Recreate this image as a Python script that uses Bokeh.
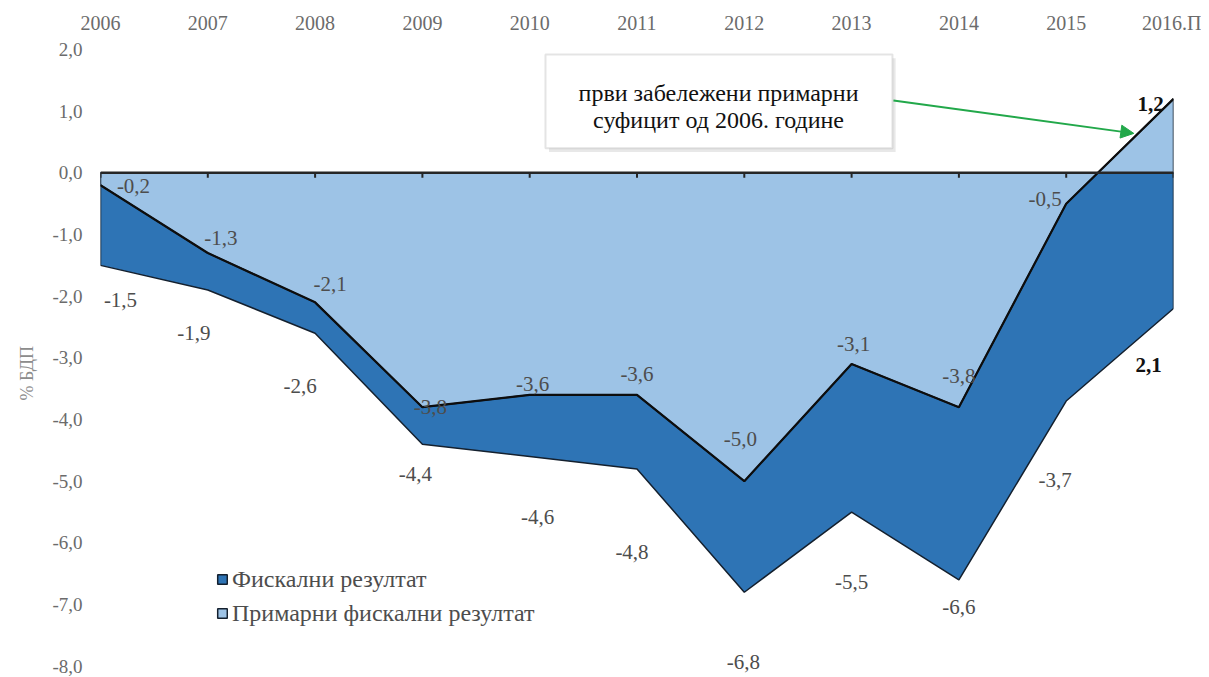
import math
from bokeh.plotting import figure
from bokeh.models import (ColumnDataSource, FixedTicker, Label, BoxAnnotation, Arrow,
                          NormalHead, Legend, LegendItem, Title)
from bokeh.core.properties import value
from bokeh.embed import file_html
from bokeh.resources import INLINE

# ---------------- data ----------------
years = ["2006", "2007", "2008", "2009", "2010", "2011", "2012", "2013", "2014", "2015", "2016.П"]
fiscal = [-1.5, -1.9, -2.6, -4.4, -4.6, -4.8, -6.8, -5.5, -6.6, -3.7, -2.2]
primary = [-0.2, -1.3, -2.1, -3.8, -3.6, -3.6, -5.0, -3.1, -3.8, -0.5, 1.2]
fiscal_labels = ["-1,5", "-1,9", "-2,6", "-4,4", "-4,6", "-4,8", "-6,8", "-5,5", "-6,6", "-3,7", "2,1"]
primary_labels = ["-0,2", "-1,3", "-2,1", "-3,8", "-3,6", "-3,6", "-5,0", "-3,1", "-3,8", "-0,5", "1,2"]
y_ticks = [2, 1, 0, -1, -2, -3, -4, -5, -6, -7, -8]
series_names = ["Фискални резултат", "Примарни фискални резултат"]
note_lines = ["први забележени примарни", "суфицит од 2006. године"]
y_title = "% БДП"

# ---------------- style ----------------
FONT = "Liberation Serif"
DARK = "#2E74B5"
LIGHT = "#9DC3E6"
EDGE = "#14202e"
TICK_GRAY = "#6b6b6b"
LAB_GRAY = "#4d4d4d"

# label offsets (px): dx, dy (dy positive = down)
p_off = [(33, 1), (13, -15), (15, -18), (8, 0), (3, -11), (0, -21), (-4, -42), (2, -20), (0, -31), (-21, -5), (-23, 5)]
f_off = [(20, 35), (-14, 43), (-15, 53), (-7, 30), (8, 60), (-5, 83), (-1, 70), (0, 70), (0, 27), (-11, 79), (-25, 56)]

xs = list(range(len(years)))

p = figure(width=1201, height=676, x_range=(0, len(years) - 1), y_range=(-8.15, 2),
           x_axis_location="above", y_axis_location="left",
           output_backend="svg", toolbar_location=None,
           min_border_left=100, min_border_right=28, min_border_top=49, min_border_bottom=1)
p.background_fill_color = "white"
p.border_fill_color = "white"
p.outline_line_color = None
p.xgrid.visible = False
p.ygrid.visible = False

# areas
poly_x = xs + [xs[-1], xs[0]]
dark = p.patch(poly_x, fiscal + [0, 0], fill_color=DARK, line_color=EDGE, line_width=1.5)
light = p.patch(poly_x, primary + [0, 0], fill_color=LIGHT, line_color=EDGE, line_width=1.5)
p.line(xs, primary, line_color="#0d0d0d", line_width=2.2)

# zero line with ticks
p.line([xs[0], xs[-1]], [0, 0], line_color="#262626", line_width=2.5)
p.segment(x0=xs, y0=[0] * len(xs), x1=xs, y1=[-0.08] * len(xs), line_color="#262626", line_width=2)

# data labels
last = len(xs) - 1
src_p = ColumnDataSource(dict(x=xs, y=primary, t=primary_labels,
                              dx=[o[0] for o in p_off], dy=[o[1] for o in p_off],
                              fw=["bold" if i == last else "normal" for i in xs],
                              c=["#111111" if i == last else LAB_GRAY for i in xs]))
src_f = ColumnDataSource(dict(x=xs, y=fiscal, t=fiscal_labels,
                              dx=[o[0] for o in f_off], dy=[o[1] for o in f_off],
                              fw=["bold" if i == last else "normal" for i in xs],
                              c=["#111111" if i == last else LAB_GRAY for i in xs]))
for s in (src_p, src_f):
    p.text(x="x", y="y", text="t", x_offset="dx", y_offset="dy", source=s,
           text_font=value(FONT), text_font_size="21px", text_color="c", text_font_style="fw",
           text_align="center", text_baseline="middle")

# axes
xa = p.xaxis[0]
xa.ticker = FixedTicker(ticks=xs)
xa.major_label_overrides = {i: y for i, y in enumerate(years)}
xa.axis_line_color = None
xa.major_tick_line_color = None
xa.minor_tick_line_color = None
xa.major_tick_out = 0
xa.major_tick_in = 0
xa.major_label_standoff = 16
xa.major_label_text_font = FONT
xa.major_label_text_font_size = "20px"
xa.major_label_text_color = TICK_GRAY

ya = p.yaxis[0]
ya.ticker = FixedTicker(ticks=y_ticks)
ya.major_label_overrides = {t: f"{t:.1f}".replace(".", ",") for t in y_ticks}
ya.axis_line_color = None
ya.major_tick_line_color = None
ya.minor_tick_line_color = None
ya.major_tick_out = 0
ya.major_tick_in = 0
ya.major_label_standoff = 18
ya.major_label_text_font = FONT
ya.major_label_text_font_size = "19px"
ya.major_label_text_color = TICK_GRAY

# y axis title
p.add_layout(Title(text=y_title, align="left", offset=275, standoff=25,
                   text_font=FONT, text_font_size="18px", text_color="#8c8c8c",
                   text_font_style="normal"), "left")

# note box
p.add_layout(BoxAnnotation(left=4.18, right=7.41, top=1.86, bottom=0.34,
                           fill_color="#d9d9d9", fill_alpha=0.6, line_color=None))
p.add_layout(BoxAnnotation(left=4.147, right=7.381, top=1.92, bottom=0.40,
                           fill_color="white", fill_alpha=1.0, line_color="#a6a6a6", line_width=2))
p.add_layout(Label(x=5.76, y=1.287, text=note_lines[0], text_font=FONT, text_font_size="24px",
                   text_color="#111111", text_align="center", text_baseline="middle"))
p.add_layout(Label(x=5.76, y=0.863, text=note_lines[1], text_font=FONT, text_font_size="24px",
                   text_color="#111111", text_align="center", text_baseline="middle"))
p.add_layout(Arrow(x_start=7.39, y_start=1.173, x_end=9.63, y_end=0.64,
                   line_color="#22a84a", line_width=2,
                   end=NormalHead(size=13, fill_color="#22a84a", line_color="#22a84a")))

# legend
leg = Legend(items=[LegendItem(label=series_names[0], renderers=[dark]),
                    LegendItem(label=series_names[1], renderers=[light])],
             location=(116, 45), orientation="vertical",
             glyph_width=12, glyph_height=12, label_standoff=4, spacing=0, label_height=34,
             padding=0, margin=0, border_line_color=None, background_fill_alpha=0,
             label_text_font=FONT, label_text_font_size="24px", label_text_color=LAB_GRAY)
p.add_layout(leg, "center")

open("out.html", "w").write(file_html(p, INLINE))
